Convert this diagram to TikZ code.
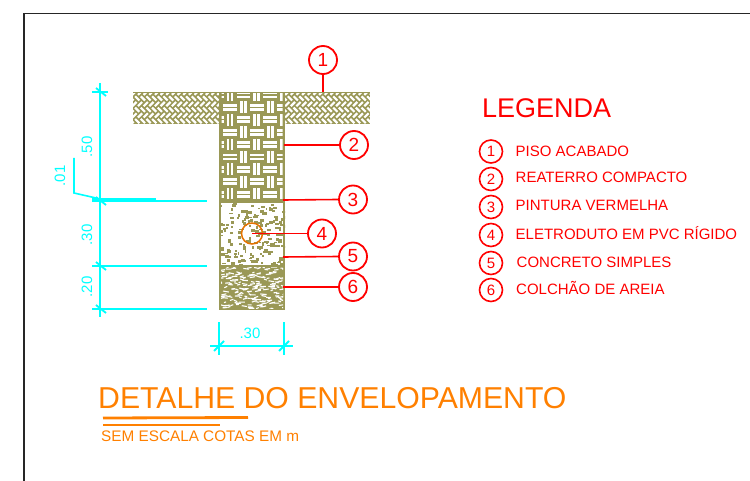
\documentclass[tikz,border=0pt]{standalone}
\usepackage{fontspec}
\setmainfont{Liberation Sans}
\definecolor{hatch}{HTML}{9A9856}
\definecolor{dimc}{HTML}{00FFFF}
\definecolor{legc}{HTML}{FF0000}
\definecolor{titc}{HTML}{FF8000}
\tikzset{
  x=1pt,y=-1pt,
  callout/.style={circle,draw=legc,line width=1.8pt,minimum size=28pt,inner sep=0pt,text=legc,font=\fontsize{19}{19}\selectfont},
  legnum/.style={circle,draw=legc,line width=1.6pt,minimum size=23pt,inner sep=0pt,text=legc,font=\fontsize{15}{15}\selectfont},
  legtext/.style={anchor=west,inner sep=0pt,text height=10.7pt,text depth=0pt,text=legc,font=\fontsize{15}{15}\selectfont},
  leader/.style={draw=legc,line width=1.6pt},
  dimline/.style={draw=dimc,line width=1.6pt},
  dimtext/.style={text=dimc,inner sep=0pt,font=\fontsize{15}{15}\selectfont},
  brick/.style={draw=white,line width=2.2pt},
}
\begin{document}
\begin{tikzpicture}
\useasboundingbox (0,0) rectangle (750,481);
\fill[white] (0,0) rectangle (750,481);
% sheet border
\draw[black!85,line width=1.6pt] (24,481) -- (24,13.5) -- (750,13.5);

% ground hatch
\fill[hatch] (133,92) rectangle (370,124.5);
\begin{scope}
\clip (133,94) rectangle (370,124.5);
\pgfmathsetmacro{\uu}{2.83}
\foreach \f in {-3,...,3}{
 \foreach \n in {-12,...,52}{
  \pgfmathsetmacro{\hxa}{133+(2*\n+4*\f+0.75)*\uu}
  \pgfmathsetmacro{\hya}{97+(4*\f-0.25)*\uu}
  \pgfmathsetmacro{\hxb}{133+(2*\n+4*\f+2.25)*\uu}
  \pgfmathsetmacro{\hyb}{97+(4*\f+1.25)*\uu}
  \pgfmathsetmacro{\vxa}{133+(2*\n+4*\f+1.75)*\uu}
  \pgfmathsetmacro{\vya}{97+(4*\f+3.25)*\uu}
  \pgfmathsetmacro{\vxb}{133+(2*\n+4*\f+3.25)*\uu}
  \pgfmathsetmacro{\vyb}{97+(4*\f+1.75)*\uu}
  \draw[brick] (\hxa,\hya) -- (\hxb,\hyb);
  \draw[brick] (\vxa,\vya) -- (\vxb,\vyb);
 }
}
\end{scope}

% trench: compact backfill basket weave
\fill[hatch] (219,92) rectangle (285,200);
\begin{scope}
\clip (221.5,94) rectangle (282.5,199.5);
\foreach \i in {-1,...,4}{
 \foreach \j in {0,...,9}{
  \pgfmathsetmacro{\px}{230+\i*13.4}
  \pgfmathsetmacro{\py}{95+\j*12.4}
  \pgfmathtruncatemacro{\wpar}{mod(\i+\j+20,2)}
  \ifnum\wpar=0
   \fill[white] (\px-3.4,\py-5.9) rectangle ++(2.8,11.8);
   \fill[white] (\px+0.6,\py-5.9) rectangle ++(2.8,11.8);
  \else
   \fill[white] (\px-6.9,\py-3.4) rectangle ++(13.8,2.8);
   \fill[white] (\px-6.9,\py+0.6) rectangle ++(13.8,2.8);
  \fi
 }
}
\end{scope}
\fill[hatch] (219,199.5) rectangle (285,203.5);

% concrete
\pgfmathsetseed{4217}
\begin{scope}
\clip (219,203) rectangle (285,266);
\fill[white] (219,203) rectangle (285,266);
\foreach \k in {1,...,170}{
  \pgfmathsetmacro{\qx}{219+rnd*66}
  \pgfmathsetmacro{\qy}{203+rnd*63}
  \pgfmathsetmacro{\qw}{1.5+rnd*3.5}
  \pgfmathsetmacro{\qh}{1.2+rnd*2.2}
  \fill[hatch] (\qx,\qy) rectangle ++(\qw,\qh);
}
\end{scope}
\draw[hatch,line width=2pt] (220,203) -- (220,266) (284,203) -- (284,266);

% sand bed
\fill[hatch] (219,265) rectangle (285,310);
\begin{scope}
\clip (221,268) rectangle (283,308.5);
\foreach \k in {1,...,210}{
  \pgfmathsetmacro{\qx}{219+rnd*66}
  \pgfmathsetmacro{\qy}{267+rnd*42}
  \pgfmathsetmacro{\qw}{2+rnd*4}
  \pgfmathsetmacro{\qd}{(rnd-0.5)*3}
  \draw[white,line width=1.1pt] (\qx,\qy) -- ++(\qw,\qd);
}
\end{scope}

% conduit
\coordinate (pipe) at (252,233.5);
\draw[titc!90!black,line width=1.5pt] (pipe) circle[radius=10.5pt];

% callouts
\node[callout] (c1) at (323,60) {1};
\node[callout] (c2) at (354,145) {2};
\node[callout] (c3) at (353,199.5) {3};
\node[callout] (c4) at (322,233.5) {4};
\node[callout] (c5) at (353,256.5) {5};
\node[callout] (c6) at (353,287) {6};
\coordinate (t1) at (323,92);
\coordinate (t2) at (284,145);
\coordinate (t3) at (283,200);
\coordinate (t5) at (283,257);
\coordinate (t6) at (283,287);
\draw[leader] (c1) -- (t1);
\draw[leader] (c2) -- (t2);
\draw[leader] (c3.west) -- (t3);
\draw[leader] (c4) -- (pipe);
\draw[leader] (c5.west) -- (t5);
\draw[leader] (c6) -- (t6);

% vertical dimension
\coordinate (dtop) at (100,83);
\coordinate (dbot) at (100,317);
\draw[dimline] (dtop) -- (dbot);
\coordinate (e0l) at (92,92);   \coordinate (e0r) at (108,92);
\coordinate (e1l) at (92,201);  \coordinate (e1r) at (207,201);
\coordinate (e2l) at (92,266);  \coordinate (e2r) at (207,266);
\coordinate (e3l) at (92,309);  \coordinate (e3r) at (207,309);
\draw[dimline] (e0l) -- (e0r);
\draw[dimc,line width=1.9pt] (e1l) -- (e1r);
\draw[dimline] (e2l) -- (e2r);
\draw[dimline] (e3l) -- (e3r);
\draw[dimc,line width=3.4pt] (92,200) -- (156,200);
\foreach \yy in {92,201,266,309}{
  \draw[dimc,line width=1.8pt] (96,\yy-4) -- (106,\yy+4);
}
\coordinate (l1) at (74,158);
\coordinate (l2) at (74,193);
\coordinate (l3) at (96,198);
\draw[dimline] (l1) -- (l2) -- (l3);
\node[dimtext,rotate=90] (d01) at (60,176) {.01};
\node[dimtext,rotate=90] (d50) at (87,147) {.50};
\node[dimtext,rotate=90] (d30) at (87,235) {.30};
\node[dimtext,rotate=90] (d20) at (87,287) {.20};

% horizontal dimension
\coordinate (hl) at (210,346);
\coordinate (hr) at (293,346);
\coordinate (al1) at (219,322); \coordinate (al2) at (219,355);
\coordinate (ar1) at (284,322); \coordinate (ar2) at (284,355);
\draw[dimline] (hl) -- (hr);
\draw[dimline] (al1) -- (al2);
\draw[dimline] (ar1) -- (ar2);
\draw[dimc,line width=1.8pt] (214,351) -- (224,341);
\draw[dimc,line width=1.8pt] (279,351) -- (289,341);
\node[dimtext] (d30h) at (250,333) {.30};

% legend
\node[anchor=west,inner sep=0pt,text=legc,font=\fontsize{27}{27}\selectfont] (leg) at (482,108) {LEGENDA};
\node[legnum] (n1) at (491,151.5) {1};
\node[legnum] (n2) at (491,179) {2};
\node[legnum] (n3) at (491,207) {3};
\node[legnum] (n4) at (491,235) {4};
\node[legnum] (n5) at (491,263) {5};
\node[legnum] (n6) at (491,290) {6};
\node[legtext] (x1) at (515.5,151.5) {PISO ACABADO};
\node[legtext] (x2) at (515.5,177.5) {REATERRO COMPACTO};
\node[legtext] (x3) at (515.5,205.5) {PINTURA VERMELHA};
\node[legtext] (x4) at (515.5,234) {ELETRODUTO EM PVC RÍGIDO};
\node[legtext] (x5) at (516.5,262.5) {CONCRETO SIMPLES};
\node[legtext] (x6) at (516,289.5) {COLCHÃO DE AREIA};

% title
\node[anchor=west,inner sep=0pt,text=titc,font=\fontsize{30.2}{30.2}\selectfont] (title) at (98,398) {DETALHE DO ENVELOPAMENTO};
\coordinate (u1a) at (103,418); \coordinate (u1b) at (248,417.5);
\coordinate (u2a) at (103,425); \coordinate (u2b) at (220,425);
\draw[titc,line width=2.8pt] (u1a) -- (u1b);
\draw[titc,line width=1.8pt] (u2a) -- (u2b);
\node[anchor=west,inner sep=0pt,text=titc,font=\fontsize{15.3}{15.3}\selectfont] (sub) at (101,436.5) {SEM ESCALA COTAS EM m};
\end{tikzpicture}
\end{document}
